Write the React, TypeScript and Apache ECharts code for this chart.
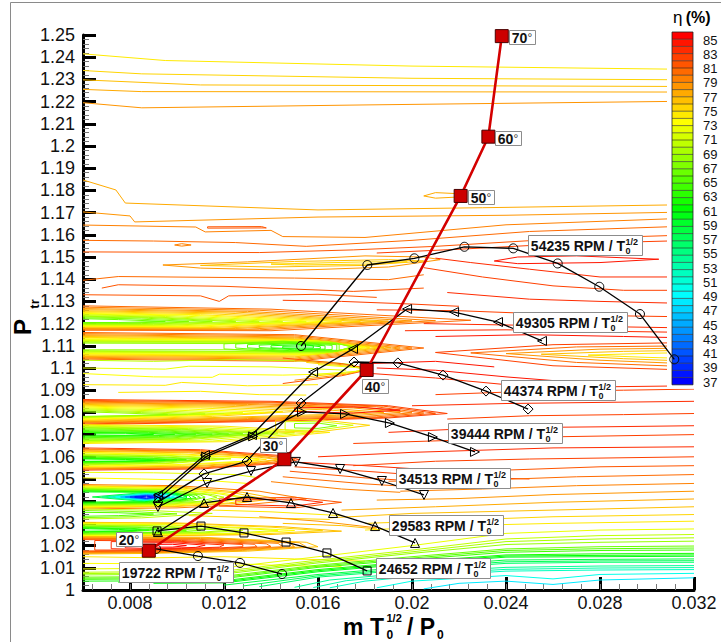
import React, { useEffect, useRef } from "react";
import * as echarts from "echarts";

const FONT = '"Liberation Sans", Arial, Helvetica, sans-serif';

// ---------- axes ----------
const xMajorTicks = [0.008, 0.012, 0.016, 0.02, 0.024, 0.028, 0.032];
const xMajorLabels = ["0.008", "0.012", "0.016", "0.02", "0.024", "0.028", "0.032"];

// ---------- colour legend levels (eta %) ----------
const etaLevels = [37, 38, 39, 40, 41, 42, 43, 44, 45, 46, 47, 48, 49, 50, 51, 52, 53, 54, 55, 56, 57, 58, 59, 60, 61,
  62, 63, 64, 65, 66, 67, 68, 69, 70, 71, 72, 73, 74, 75, 76, 77, 78, 79, 80, 81, 82, 83, 84, 85];
const etaTickLabels = ["85", "83", "81", "79", "77", "75", "73", "71", "69", "67", "65", "63", "61", "59", "57", "55", "53", "51", "49", "47", "45", "43", "41", "39", "37"];

// ---------- speed lines ----------
const speedNames = ["54235", "49305", "44374", "39444", "34513", "29583", "24652", "19722"];
const s54235 = [[0.01528, 1.1099], [0.0181, 1.1464], [0.0201, 1.1494], [0.02223, 1.1546], [0.02431, 1.1539], [0.0262, 1.1471], [0.02797, 1.1366], [0.0297, 1.1243], [0.03116, 1.1039]];
const s49305 = [[0.00919, 1.0428], [0.01119, 1.0608], [0.01319, 1.0698], [0.01579, 1.0982], [0.01749, 1.1086], [0.01979, 1.1266], [0.02179, 1.1252], [0.02366, 1.1207], [0.02553, 1.1122]];
const s44374 = [[0.00919, 1.0396], [0.01115, 1.0523], [0.01298, 1.0581], [0.01528, 1.0842], [0.01753, 1.1027], [0.0194, 1.1023], [0.02132, 1.0968], [0.02315, 1.0896], [0.02494, 1.0815]];
const s39444 = [[0.00925, 1.0415], [0.01124, 1.0601], [0.01324, 1.0692], [0.01532, 1.0802], [0.01715, 1.0793], [0.01906, 1.0752], [0.02089, 1.0689], [0.02268, 1.0622]];
const s34513 = [[0.00919, 1.0374], [0.01128, 1.0482], [0.01315, 1.0536], [0.01506, 1.0577], [0.01694, 1.0545], [0.01872, 1.0491], [0.02051, 1.0428]];
const s29583 = [[0.00919, 1.0261], [0.01115, 1.0392], [0.01298, 1.0419], [0.01485, 1.0392], [0.01664, 1.0347], [0.01843, 1.0288], [0.02013, 1.0212]];
const s24652 = [[0.00915, 1.0266], [0.01102, 1.0288], [0.01285, 1.0257], [0.01464, 1.0216], [0.01638, 1.0167], [0.01809, 1.0086]];
const s19722 = [[0.00911, 1.0185], [0.01089, 1.0153], [0.01268, 1.0122], [0.01447, 1.0072]];
const speedData = [s54235, s49305, s44374, s39444, s34513, s29583, s24652, s19722];

// ---------- inlet-angle line ----------
const angleLabels = ["20", "30", "40", "50", "60", "70"];
const angleData = [[0.0088, 1.0177], [0.01457, 1.0589], [0.01807, 1.0991], [0.02207, 1.1775], [0.02325, 1.2042], [0.02382, 1.2495]];

// ---------- efficiency contour lines: [level, points] ----------
type C = [number, number[][]];
const contourTop: C[] = [
  [74, [[0.006, 1.2415], [0.0095, 1.2385], [0.02, 1.236], [0.032, 1.2345]]],
  [75, [[0.006, 1.234], [0.0085, 1.2325], [0.02, 1.2305], [0.032, 1.2298]]],
  [76, [[0.006, 1.2298], [0.011, 1.2275], [0.032, 1.2268]]],
  [77, [[0.006, 1.2255], [0.0085, 1.2245], [0.032, 1.2243]]],
  [78, [[0.006, 1.2195], [0.0085, 1.2172], [0.018, 1.2185], [0.032, 1.2202]]],
  [77, [[0.0205, 1.1775], [0.021, 1.179], [0.022, 1.1785], [0.0223, 1.1772], [0.021, 1.1765], [0.0205, 1.1775]]],
];
const contourUpper: C[] = [
  [77, [[0.006, 1.1847], [0.0074, 1.1802], [0.0078, 1.1743], [0.016, 1.1712], [0.023, 1.1722], [0.032, 1.1736]]],
  [78, [[0.006, 1.1703], [0.008, 1.1685], [0.0082, 1.1658], [0.016, 1.168], [0.024, 1.1688], [0.032, 1.1703]]],
  [79, [[0.006, 1.1644], [0.0108, 1.1635], [0.0112, 1.1613], [0.014, 1.162], [0.0145, 1.1592], [0.018, 1.1588], [0.024, 1.1645], [0.032, 1.1676]]],
  [81, [[0.0113, 1.1636], [0.0136, 1.1637], [0.0138, 1.1631], [0.0113, 1.163], [0.0113, 1.1636]]],
  [80, [[0.006, 1.1575], [0.009, 1.1572], [0.0125, 1.1565], [0.0155, 1.1548], [0.02, 1.1575], [0.025, 1.1615], [0.032, 1.164]]],
  [81, [[0.006, 1.1523], [0.0135, 1.152], [0.0175, 1.1532], [0.021, 1.1548], [0.026, 1.158], [0.032, 1.16]]],
  [82, [[0.0185, 1.1518], [0.022, 1.1535], [0.0265, 1.156], [0.032, 1.1575]]],
  [79, [[0.0099, 1.1554], [0.0102, 1.156], [0.0106, 1.1554], [0.0102, 1.1549], [0.0099, 1.1554]]],
  [78, [[0.0094, 1.1464], [0.013, 1.1478], [0.018, 1.1505], [0.0205, 1.15], [0.0212, 1.1488], [0.019, 1.1455], [0.015, 1.144], [0.011, 1.145], [0.0094, 1.1464]]],
  [76, [[0.011, 1.1462], [0.015, 1.148], [0.019, 1.1488], [0.0205, 1.1482], [0.018, 1.1462], [0.014, 1.1455], [0.011, 1.1462]]],
  [75, [[0.014, 1.1468], [0.018, 1.1478], [0.0198, 1.1478], [0.018, 1.1468], [0.015, 1.1464], [0.014, 1.1468]]],
  [84, [[0.0245, 1.15], [0.027, 1.1505], [0.0305, 1.149], [0.028, 1.1475], [0.0245, 1.147], [0.0235, 1.1482], [0.0245, 1.15]]],
  [83, [[0.021, 1.1495], [0.0225, 1.1475], [0.025, 1.1445], [0.028, 1.141], [0.032, 1.141]]],
  [82, [[0.0205, 1.1452], [0.023, 1.141], [0.026, 1.137], [0.029, 1.135], [0.032, 1.135]]],
  [83, [[0.0215, 1.134], [0.025, 1.131], [0.028, 1.13], [0.032, 1.129]]],
  [82, [[0.0185, 1.1262], [0.022, 1.1258], [0.027, 1.1238], [0.032, 1.123]]],
  [83, [[0.0205, 1.12], [0.025, 1.1192], [0.032, 1.118]]],
  [84, [[0.021, 1.1142], [0.025, 1.115], [0.029, 1.1142], [0.032, 1.1135]]],
  [83, [[0.0197, 1.1168], [0.024, 1.1172], [0.032, 1.116]]],
  [80, [[0.006, 1.1395], [0.0075, 1.1412], [0.015, 1.1405], [0.019, 1.1398], [0.0205, 1.142]]],
  [81, [[0.0068, 1.136], [0.0075, 1.1375], [0.012, 1.1368], [0.0175, 1.1345], [0.0205, 1.136]]],
  [81, [[0.006, 1.133], [0.011, 1.1325], [0.0118, 1.13], [0.0122, 1.1325], [0.016, 1.1332], [0.0185, 1.1318]]],
  [82, [[0.0145, 1.1305], [0.017, 1.13], [0.02, 1.1288], [0.022, 1.1278]]],
];
const contourBand112: C[] = [
  [80, [[0.006, 1.128], [0.014, 1.1265], [0.0225, 1.1215], [0.014, 1.1168], [0.006, 1.117]]],
  [79, [[0.006, 1.1274], [0.0135, 1.126], [0.021, 1.1213], [0.0135, 1.1172], [0.006, 1.1174]]],
  [78, [[0.006, 1.1268], [0.013, 1.1255], [0.02, 1.1212], [0.013, 1.1175], [0.006, 1.1178]]],
  [77, [[0.006, 1.1263], [0.0125, 1.1252], [0.019, 1.1211], [0.0125, 1.1178], [0.006, 1.1181]]],
  [76, [[0.006, 1.1258], [0.012, 1.1248], [0.0185, 1.121], [0.012, 1.118], [0.006, 1.1184]]],
  [75, [[0.006, 1.1254], [0.0115, 1.1244], [0.0178, 1.121], [0.0115, 1.1183], [0.006, 1.1186]]],
  [74, [[0.006, 1.125], [0.011, 1.124], [0.017, 1.121], [0.011, 1.1185], [0.006, 1.1188]]],
  [73, [[0.006, 1.1246], [0.0105, 1.1238], [0.0162, 1.1209], [0.0105, 1.1188], [0.006, 1.119]]],
  [72, [[0.006, 1.1243], [0.01, 1.1235], [0.0155, 1.1208], [0.01, 1.119], [0.006, 1.1192]]],
  [71, [[0.006, 1.124], [0.0095, 1.1232], [0.0145, 1.1208], [0.0095, 1.1193], [0.006, 1.1194]]],
  [70, [[0.006, 1.1236], [0.009, 1.123], [0.0135, 1.1208], [0.009, 1.1195], [0.006, 1.1196]]],
  [69, [[0.006, 1.1233], [0.0088, 1.1228], [0.0125, 1.1209], [0.0088, 1.1198], [0.006, 1.1198]]],
  [68, [[0.006, 1.123], [0.0085, 1.1225], [0.0115, 1.121], [0.0085, 1.12], [0.006, 1.12]]],
  [67, [[0.006, 1.1226], [0.008, 1.1222], [0.0105, 1.121], [0.008, 1.1203], [0.006, 1.1203]]],
  [66, [[0.006, 1.1222], [0.0075, 1.1218], [0.0095, 1.121], [0.0075, 1.1205], [0.006, 1.1205]]],
];
const contourBand111: C[] = [
  [80, [[0.006, 1.116], [0.015, 1.115], [0.0205, 1.109], [0.015, 1.103], [0.006, 1.104]]],
  [79, [[0.006, 1.1155], [0.015, 1.1145], [0.02, 1.109], [0.015, 1.1035], [0.006, 1.1044]]],
  [78, [[0.006, 1.115], [0.015, 1.114], [0.0195, 1.109], [0.015, 1.104], [0.006, 1.1048]]],
  [77, [[0.006, 1.1146], [0.015, 1.1136], [0.0191, 1.1091], [0.015, 1.1045], [0.006, 1.1052]]],
  [76, [[0.006, 1.1142], [0.015, 1.1132], [0.0188, 1.1092], [0.015, 1.105], [0.006, 1.1055]]],
  [75, [[0.006, 1.1138], [0.0152, 1.1128], [0.0185, 1.1092], [0.0152, 1.1054], [0.006, 1.1058]]],
  [74, [[0.006, 1.1135], [0.0155, 1.1125], [0.0182, 1.1093], [0.0155, 1.1058], [0.006, 1.1062]]],
  [73, [[0.006, 1.1131], [0.0157, 1.1123], [0.018, 1.1094], [0.0157, 1.1061], [0.006, 1.1065]]],
  [72, [[0.006, 1.1128], [0.016, 1.1122], [0.0178, 1.1095], [0.016, 1.1064], [0.006, 1.1068]]],
  [71, [[0.006, 1.1124], [0.0162, 1.112], [0.0177, 1.1095], [0.0162, 1.1067], [0.006, 1.1071]]],
  [70, [[0.006, 1.112], [0.0165, 1.1118], [0.0176, 1.1095], [0.0165, 1.107], [0.006, 1.1075]]],
  [69, [[0.006, 1.1116], [0.0166, 1.1115], [0.0175, 1.1095], [0.0166, 1.1072], [0.006, 1.1078]]],
  [68, [[0.006, 1.1112], [0.012, 1.111], [0.0168, 1.1112], [0.0174, 1.1095], [0.0168, 1.1074], [0.012, 1.1082], [0.006, 1.1082]]],
  [67, [[0.012, 1.1109], [0.0145, 1.1121], [0.0169, 1.1108], [0.0169, 1.1078], [0.0145, 1.1072], [0.012, 1.1086], [0.012, 1.1109]]],
  [66, [[0.0125, 1.1108], [0.0145, 1.1118], [0.0168, 1.1105], [0.0168, 1.108], [0.0145, 1.1075], [0.0125, 1.109], [0.0125, 1.1108]]],
  [65, [[0.013, 1.1105], [0.0148, 1.1114], [0.0166, 1.1102], [0.0166, 1.1083], [0.0148, 1.1078], [0.013, 1.1091], [0.013, 1.1105]]],
  [64, [[0.0135, 1.1103], [0.015, 1.111], [0.0163, 1.11], [0.0163, 1.1085], [0.015, 1.1082], [0.0135, 1.1092], [0.0135, 1.1103]]],
  [63, [[0.014, 1.11], [0.0153, 1.1106], [0.0161, 1.1096], [0.0161, 1.1087], [0.0153, 1.1085], [0.014, 1.1091], [0.014, 1.11]]],
  [62, [[0.0145, 1.1098], [0.0158, 1.11], [0.0158, 1.109], [0.0145, 1.109], [0.0145, 1.1098]]],
];
const contourMid: C[] = [
  [70, [[0.006, 1.1035], [0.009, 1.103], [0.0125, 1.1038], [0.016, 1.103], [0.0175, 1.1015]]],
  [72, [[0.006, 1.1], [0.0095, 1.0995], [0.0105, 1.1008], [0.014, 1.1005], [0.0172, 1.099]]],
  [73, [[0.006, 1.0975], [0.009, 1.096], [0.0115, 1.0958], [0.0118, 1.0972], [0.0145, 1.0968], [0.0172, 1.0975]]],
  [74, [[0.006, 1.0925], [0.0095, 1.0922], [0.0102, 1.0935], [0.013, 1.092], [0.016, 1.0925]]],
  [74, [[0.0075, 1.089], [0.011, 1.0895], [0.0135, 1.088], [0.0155, 1.0878]]],
  [81, [[0.0145, 1.1045], [0.017, 1.102], [0.0183, 1.0995], [0.017, 1.0965], [0.0145, 1.093]]],
  [78, [[0.015, 1.1035], [0.0172, 1.1013], [0.0182, 1.0995], [0.0172, 1.0972], [0.015, 1.0945]]],
  [75, [[0.0155, 1.1025], [0.0174, 1.1007], [0.0181, 1.0995], [0.0174, 1.098], [0.0155, 1.096]]],
  [72, [[0.016, 1.1015], [0.0176, 1.1002], [0.018, 1.0995], [0.0176, 1.0985], [0.016, 1.0972]]],
  [82, [[0.032, 1.1115], [0.026, 1.1105], [0.021, 1.107], [0.026, 1.101], [0.032, 1.099]]],
  [80, [[0.032, 1.11], [0.027, 1.1095], [0.0225, 1.1068], [0.027, 1.1025], [0.032, 1.1005]]],
  [78, [[0.032, 1.109], [0.028, 1.1085], [0.024, 1.1065], [0.028, 1.1035], [0.032, 1.1018]]],
  [76, [[0.032, 1.108], [0.029, 1.1075], [0.0255, 1.1062], [0.029, 1.1042], [0.032, 1.103]]],
  [74, [[0.032, 1.107], [0.03, 1.1066], [0.0275, 1.1058], [0.03, 1.1048], [0.032, 1.1042]]],
  [84, [[0.0185, 1.1], [0.021, 1.099], [0.024, 1.096], [0.027, 1.0935]]],
  [83, [[0.0183, 1.0975], [0.021, 1.0955], [0.024, 1.0925], [0.028, 1.0915], [0.032, 1.092]]],
  [84, [[0.0182, 1.102], [0.021, 1.103], [0.0235, 1.1005]]],
  [82, [[0.021, 1.088], [0.025, 1.0895], [0.029, 1.09], [0.032, 1.0905]]],
  [83, [[0.02, 1.083], [0.024, 1.084], [0.028, 1.0845], [0.032, 1.085]]],
  [82, [[0.0215, 1.077], [0.025, 1.0785], [0.029, 1.079], [0.032, 1.0795]]],
  [83, [[0.019, 1.071], [0.023, 1.073], [0.028, 1.0735], [0.032, 1.074]]],
  [82, [[0.0175, 1.066], [0.022, 1.0675], [0.026, 1.069], [0.032, 1.07]]],
  [83, [[0.0152, 1.0575], [0.018, 1.056], [0.021, 1.054], [0.024, 1.0525]]],
  [82, [[0.015, 1.0555], [0.018, 1.0535], [0.021, 1.0512], [0.025, 1.05]]],
  [81, [[0.0148, 1.0535], [0.018, 1.0505], [0.021, 1.0485]]],
  [80, [[0.0145, 1.051], [0.018, 1.0478], [0.0205, 1.0462]]],
  [79, [[0.014, 1.0488], [0.017, 1.0455], [0.0195, 1.044]]],
];
const contourBand108: C[] = [
  [82, [[0.006, 1.0858], [0.014, 1.085], [0.019, 1.083], [0.0215, 1.0795], [0.019, 1.0775], [0.014, 1.076], [0.006, 1.0745]]],
  [81, [[0.006, 1.0854], [0.014, 1.0846], [0.0188, 1.0828], [0.021, 1.0796], [0.0188, 1.0777], [0.014, 1.0763], [0.006, 1.0748]]],
  [80, [[0.006, 1.085], [0.014, 1.0843], [0.0185, 1.0825], [0.0205, 1.0797], [0.0185, 1.078], [0.014, 1.0766], [0.006, 1.0752]]],
  [79, [[0.006, 1.0846], [0.0135, 1.0839], [0.018, 1.0822], [0.02, 1.0798], [0.018, 1.0782], [0.0135, 1.0769], [0.006, 1.0755]]],
  [78, [[0.006, 1.0843], [0.013, 1.0836], [0.0175, 1.082], [0.0195, 1.08], [0.0175, 1.0785], [0.013, 1.0772], [0.006, 1.0758]]],
  [77, [[0.006, 1.084], [0.0125, 1.0832], [0.0168, 1.0816], [0.0188, 1.08], [0.0168, 1.0787], [0.0125, 1.0775], [0.006, 1.076]]],
  [76, [[0.006, 1.0836], [0.012, 1.0828], [0.0162, 1.0812], [0.018, 1.08], [0.0162, 1.079], [0.012, 1.0778], [0.006, 1.0763]]],
  [75, [[0.006, 1.0832], [0.0115, 1.0824], [0.0155, 1.0807], [0.0115, 1.0782], [0.006, 1.0765]]],
  [74, [[0.006, 1.0828], [0.011, 1.082], [0.0145, 1.0803], [0.011, 1.0785], [0.006, 1.0768]]],
  [73, [[0.006, 1.0824], [0.0105, 1.0815], [0.0137, 1.08], [0.0105, 1.0786], [0.006, 1.077]]],
  [72, [[0.006, 1.082], [0.01, 1.081], [0.0128, 1.0798], [0.01, 1.0788], [0.006, 1.0773]]],
  [71, [[0.006, 1.0816], [0.0095, 1.0806], [0.012, 1.0795], [0.0095, 1.0787], [0.006, 1.0776]]],
  [70, [[0.006, 1.0812], [0.009, 1.0802], [0.0112, 1.0793], [0.009, 1.0786], [0.006, 1.0778]]],
  [69, [[0.006, 1.0808], [0.0085, 1.0799], [0.0104, 1.0791], [0.0085, 1.0786], [0.006, 1.078]]],
  [68, [[0.006, 1.0803], [0.008, 1.0796], [0.0096, 1.079], [0.008, 1.0786], [0.006, 1.0782]]],
  [84, [[0.015, 1.082], [0.0175, 1.0825], [0.0195, 1.081], [0.0175, 1.0797], [0.015, 1.0805], [0.015, 1.082]]],
];
const contourBand107: C[] = [
  [74, [[0.006, 1.0745], [0.012, 1.0738], [0.0165, 1.071], [0.012, 1.0668], [0.006, 1.066]]],
  [72, [[0.006, 1.0742], [0.0115, 1.0734], [0.0158, 1.0709], [0.0115, 1.0671], [0.006, 1.0664]]],
  [71, [[0.006, 1.0738], [0.011, 1.073], [0.015, 1.0708], [0.011, 1.0675], [0.006, 1.0668]]],
  [70, [[0.006, 1.0735], [0.0105, 1.0727], [0.0143, 1.0707], [0.0105, 1.0678], [0.006, 1.0671]]],
  [69, [[0.006, 1.0732], [0.0102, 1.0724], [0.0139, 1.0706], [0.0102, 1.068], [0.006, 1.0673]]],
  [68, [[0.006, 1.073], [0.01, 1.0722], [0.0135, 1.0705], [0.01, 1.0682], [0.006, 1.0675]]],
  [67, [[0.006, 1.0726], [0.0097, 1.0719], [0.0128, 1.0704], [0.0097, 1.0685], [0.006, 1.0679]]],
  [66, [[0.006, 1.0722], [0.0095, 1.0716], [0.0122, 1.0703], [0.0095, 1.0688], [0.006, 1.0683]]],
  [65, [[0.006, 1.0718], [0.0092, 1.0713], [0.0115, 1.0702], [0.0092, 1.0691], [0.006, 1.0686]]],
  [64, [[0.006, 1.0714], [0.0088, 1.071], [0.0108, 1.0702], [0.0088, 1.0694], [0.006, 1.069]]],
  [63, [[0.006, 1.071], [0.0083, 1.0708], [0.0099, 1.0701], [0.0083, 1.0695], [0.006, 1.0694]]],
  [62, [[0.0065, 1.0706], [0.0078, 1.0706], [0.009, 1.0701], [0.0078, 1.0697], [0.0065, 1.0698], [0.0065, 1.0706]]],
  [75, [[0.0142, 1.0765], [0.016, 1.0768], [0.0182, 1.0742], [0.016, 1.0712], [0.0142, 1.0712], [0.0142, 1.0765]]],
  [71, [[0.0146, 1.0758], [0.016, 1.076], [0.0175, 1.0742], [0.016, 1.072], [0.0146, 1.072], [0.0146, 1.0758]]],
  [67, [[0.015, 1.075], [0.016, 1.0752], [0.0168, 1.074], [0.016, 1.0728], [0.015, 1.073], [0.015, 1.075]]],
];
const contourBand106: C[] = [
  [82, [[0.006, 1.064], [0.011, 1.0632], [0.0145, 1.0605], [0.0152, 1.0588], [0.0145, 1.0572], [0.011, 1.0545], [0.006, 1.054]]],
  [80, [[0.006, 1.0635], [0.011, 1.0628], [0.0142, 1.0603], [0.015, 1.0588], [0.0142, 1.0573], [0.011, 1.0549], [0.006, 1.0544]]],
  [79, [[0.006, 1.0632], [0.011, 1.0625], [0.014, 1.0602], [0.0148, 1.0588], [0.014, 1.0575], [0.011, 1.0552], [0.006, 1.0546]]],
  [77, [[0.006, 1.0628], [0.0107, 1.0621], [0.0137, 1.06], [0.0145, 1.0588], [0.0137, 1.0577], [0.0107, 1.0555], [0.006, 1.0549]]],
  [76, [[0.006, 1.0625], [0.0105, 1.0618], [0.0135, 1.0598], [0.0143, 1.0588], [0.0135, 1.0578], [0.0105, 1.0558], [0.006, 1.0552]]],
  [74, [[0.006, 1.062], [0.0102, 1.0613], [0.013, 1.0596], [0.0138, 1.0588], [0.013, 1.0579], [0.0102, 1.0562], [0.006, 1.0556]]],
  [73, [[0.006, 1.0618], [0.01, 1.061], [0.0128, 1.0595], [0.0135, 1.0588], [0.0128, 1.058], [0.01, 1.0565], [0.006, 1.0558]]],
  [71, [[0.006, 1.0613], [0.0097, 1.0606], [0.0123, 1.0591], [0.0097, 1.057], [0.006, 1.0562]]],
  [70, [[0.006, 1.061], [0.0095, 1.0604], [0.012, 1.059], [0.0095, 1.0572], [0.006, 1.0564]]],
  [68, [[0.006, 1.0606], [0.0092, 1.06], [0.0114, 1.0589], [0.0092, 1.0575], [0.006, 1.0568]]],
  [67, [[0.006, 1.0603], [0.009, 1.0598], [0.011, 1.0588], [0.009, 1.0577], [0.006, 1.057]]],
  [65, [[0.006, 1.0599], [0.0087, 1.0594], [0.0104, 1.0587], [0.0087, 1.0579], [0.006, 1.0574]]],
  [64, [[0.006, 1.0596], [0.0085, 1.0592], [0.01, 1.0586], [0.0085, 1.058], [0.006, 1.0576]]],
  [63, [[0.006, 1.0593], [0.0082, 1.059], [0.0095, 1.0585], [0.0082, 1.058], [0.006, 1.0578]]],
  [62, [[0.006, 1.059], [0.0078, 1.0588], [0.009, 1.0584], [0.0078, 1.0581], [0.006, 1.058]]],
];
const contourBand104: C[] = [
  [72, [[0.006, 1.053], [0.009, 1.0528], [0.0125, 1.052], [0.0135, 1.0505]]],
  [73, [[0.006, 1.0505], [0.0085, 1.05], [0.0115, 1.0492], [0.013, 1.048]]],
  [79, [[0.006, 1.0475], [0.01, 1.047], [0.0135, 1.0445], [0.0155, 1.041], [0.013, 1.0385], [0.01, 1.037], [0.006, 1.0365]]],
  [76, [[0.006, 1.047], [0.01, 1.0465], [0.0128, 1.044], [0.0142, 1.0412], [0.0125, 1.039], [0.01, 1.0376], [0.006, 1.037]]],
  [75, [[0.006, 1.0468], [0.0099, 1.0462], [0.0124, 1.0438], [0.0136, 1.0413], [0.0122, 1.0392], [0.0099, 1.0379], [0.006, 1.0372]]],
  [73, [[0.006, 1.0465], [0.0098, 1.0458], [0.012, 1.0435], [0.013, 1.0415], [0.0118, 1.0395], [0.0098, 1.0382], [0.006, 1.0375]]],
  [72, [[0.006, 1.0463], [0.0097, 1.0456], [0.0118, 1.0433], [0.0127, 1.0416], [0.0116, 1.0396], [0.0097, 1.0384], [0.006, 1.0377]]],
  [70, [[0.006, 1.046], [0.0095, 1.0452], [0.0115, 1.043], [0.012, 1.0418], [0.0112, 1.0398], [0.0095, 1.0386], [0.006, 1.038]]],
  [69, [[0.006, 1.0458], [0.0094, 1.045], [0.0113, 1.0429], [0.0117, 1.0418], [0.011, 1.04], [0.0093, 1.0388], [0.006, 1.0382]]],
  [67, [[0.006, 1.0454], [0.0092, 1.0447], [0.011, 1.0428], [0.0112, 1.0418], [0.0106, 1.0402], [0.009, 1.039], [0.006, 1.0385]]],
  [66, [[0.006, 1.0452], [0.0091, 1.0445], [0.0108, 1.0427], [0.011, 1.0417], [0.0104, 1.0403], [0.0089, 1.0392], [0.006, 1.0387]]],
  [64, [[0.006, 1.0448], [0.009, 1.0443], [0.0106, 1.0426], [0.0108, 1.0416], [0.0102, 1.0404], [0.0088, 1.0394], [0.006, 1.039]]],
  [63, [[0.006, 1.0446], [0.0089, 1.0442], [0.0105, 1.0425], [0.0106, 1.0414], [0.0101, 1.0405], [0.0087, 1.0396], [0.006, 1.0392]]],
  [61, [[0.006, 1.0442], [0.0088, 1.044], [0.0104, 1.0424], [0.0104, 1.0412], [0.0086, 1.0398], [0.006, 1.0396]]],
  [58, [[0.0064, 1.0419], [0.0085, 1.0438], [0.01, 1.0435], [0.0104, 1.0419], [0.0085, 1.04], [0.0064, 1.0419]]],
  [55, [[0.0068, 1.0419], [0.0086, 1.0436], [0.0098, 1.0433], [0.0102, 1.0419], [0.0086, 1.0402], [0.0068, 1.0419]]],
  [52, [[0.0071, 1.0419], [0.0086, 1.0434], [0.0097, 1.0431], [0.0101, 1.0419], [0.0086, 1.0404], [0.0071, 1.0419]]],
  [49, [[0.0074, 1.0419], [0.0087, 1.0432], [0.0095, 1.0429], [0.0099, 1.0419], [0.0087, 1.0406], [0.0074, 1.0419]]],
  [46, [[0.0076, 1.0419], [0.0087, 1.043], [0.0093, 1.0427], [0.0097, 1.0419], [0.0087, 1.0408], [0.0076, 1.0419]]],
  [43, [[0.0078, 1.0419], [0.0087, 1.0427], [0.0092, 1.0425], [0.0095, 1.0419], [0.0087, 1.041], [0.0078, 1.0419]]],
  [40, [[0.008, 1.0419], [0.0087, 1.0425], [0.009, 1.0423], [0.0093, 1.0419], [0.0087, 1.0412], [0.008, 1.0419]]],
  [38, [[0.0082, 1.0419], [0.0087, 1.0422], [0.0091, 1.0419], [0.0087, 1.0415], [0.0082, 1.0419]]],
  [81, [[0.0118, 1.041], [0.015, 1.0418], [0.017, 1.0395], [0.015, 1.037], [0.0118, 1.0378], [0.0118, 1.041]]],
  [83, [[0.0125, 1.0405], [0.015, 1.041], [0.0162, 1.0395], [0.015, 1.0378], [0.0125, 1.0385], [0.0125, 1.0405]]],
];
const contourBand103: C[] = [
  [70, [[0.006, 1.0365], [0.0085, 1.036], [0.0115, 1.0345], [0.0085, 1.0325], [0.006, 1.032]]],
  [67, [[0.006, 1.0358], [0.008, 1.0354], [0.01, 1.0343], [0.008, 1.033], [0.006, 1.0326]]],
  [65, [[0.006, 1.035], [0.0075, 1.0348], [0.009, 1.0342], [0.0075, 1.0335], [0.006, 1.0332]]],
  [74, [[0.0115, 1.036], [0.014, 1.0352], [0.017, 1.0335]]],
  [75, [[0.0105, 1.0335], [0.0135, 1.0325], [0.0165, 1.0318]]],
  [76, [[0.0145, 1.03], [0.017, 1.029], [0.0185, 1.0275]]],
  [78, [[0.0135, 1.033], [0.016, 1.031], [0.0185, 1.028]]],
];
const contourBand1027: C[] = [
  [76, [[0.006, 1.0305], [0.01, 1.0302], [0.0145, 1.0285], [0.017, 1.0265], [0.014, 1.025], [0.01, 1.0245], [0.006, 1.024]]],
  [75, [[0.006, 1.0303], [0.0098, 1.03], [0.014, 1.0283], [0.0162, 1.0267], [0.0135, 1.0252], [0.0098, 1.0247], [0.006, 1.0242]]],
  [73, [[0.006, 1.03], [0.0095, 1.0296], [0.013, 1.028], [0.015, 1.0268], [0.0128, 1.0255], [0.0095, 1.025], [0.006, 1.0245]]],
  [72, [[0.006, 1.0298], [0.0093, 1.0294], [0.0125, 1.0279], [0.0143, 1.0268], [0.0122, 1.0256], [0.0093, 1.0252], [0.006, 1.0247]]],
  [70, [[0.006, 1.0294], [0.009, 1.029], [0.0115, 1.0276], [0.0128, 1.0268], [0.0112, 1.0258], [0.009, 1.0254], [0.006, 1.025]]],
  [69, [[0.006, 1.0292], [0.0088, 1.0288], [0.011, 1.0275], [0.0122, 1.0268], [0.0107, 1.0259], [0.0088, 1.0255], [0.006, 1.0251]]],
  [67, [[0.006, 1.0288], [0.0085, 1.0284], [0.0102, 1.0273], [0.011, 1.0268], [0.01, 1.0261], [0.0085, 1.0258], [0.006, 1.0255]]],
  [66, [[0.006, 1.0286], [0.0083, 1.0282], [0.0098, 1.0272], [0.0104, 1.0267], [0.0096, 1.0262], [0.0083, 1.0259], [0.006, 1.0257]]],
  [64, [[0.006, 1.0282], [0.008, 1.0278], [0.0092, 1.0271], [0.008, 1.0263], [0.006, 1.026]]],
  [63, [[0.006, 1.0279], [0.0078, 1.0276], [0.0088, 1.027], [0.0078, 1.0265], [0.006, 1.0262]]],
  [62, [[0.006, 1.0276], [0.0075, 1.0273], [0.0083, 1.0269], [0.0075, 1.0266], [0.006, 1.0265]]],
];
const contourBand102: C[] = [
  [76, [[0.006, 1.024], [0.011, 1.0238], [0.0155, 1.0215], [0.016, 1.0195], [0.013, 1.0175], [0.009, 1.0165], [0.006, 1.0162]]],
  [77, [[0.006, 1.0238], [0.011, 1.0235], [0.0152, 1.0213], [0.0155, 1.0195], [0.0128, 1.0178], [0.009, 1.0168], [0.006, 1.0165]]],
  [78, [[0.006, 1.0235], [0.011, 1.0232], [0.0148, 1.0212], [0.015, 1.0195], [0.0125, 1.018], [0.009, 1.017], [0.006, 1.0168]]],
  [79, [[0.006, 1.0233], [0.0108, 1.0229], [0.0143, 1.021], [0.0145, 1.0195], [0.0122, 1.0182], [0.009, 1.0172], [0.006, 1.017]]],
  [80, [[0.006, 1.023], [0.0105, 1.0226], [0.0138, 1.0208], [0.014, 1.0196], [0.012, 1.0184], [0.009, 1.0175], [0.006, 1.0173]]],
  [81, [[0.006, 1.0227], [0.0102, 1.0223], [0.0133, 1.0206], [0.0134, 1.0195], [0.0118, 1.0186], [0.009, 1.0178], [0.006, 1.0176]]],
  [82, [[0.0065, 1.0223], [0.01, 1.022], [0.0128, 1.0205], [0.0128, 1.0195], [0.0115, 1.0188], [0.009, 1.018], [0.0065, 1.018], [0.0065, 1.0223]]],
  [83, [[0.0072, 1.0218], [0.0099, 1.0217], [0.012, 1.0203], [0.0118, 1.0193], [0.0102, 1.0187], [0.0085, 1.0183], [0.0072, 1.0186], [0.0072, 1.0218]]],
  [84, [[0.0078, 1.0212], [0.0098, 1.0213], [0.0112, 1.0202], [0.0108, 1.0192], [0.009, 1.0186], [0.0078, 1.019], [0.0078, 1.0212]]],
  [85, [[0.0085, 1.0205], [0.0098, 1.0206], [0.0104, 1.02], [0.0098, 1.0193], [0.0087, 1.0193], [0.0085, 1.0205]]],
];
const contourBottom: C[] = [
  [74, [[0.006, 1.015], [0.009, 1.0145], [0.012, 1.015], [0.015, 1.014], [0.018, 1.013]]],
  [73, [[0.006, 1.012], [0.0095, 1.0118], [0.011, 1.0125], [0.014, 1.0112], [0.017, 1.0105]]],
  [72, [[0.006, 1.0095], [0.012, 1.01], [0.016, 1.015], [0.02, 1.02], [0.024, 1.0255], [0.028, 1.027], [0.032, 1.0275]]],
  [70, [[0.006, 1.008], [0.012, 1.0085], [0.016, 1.0135], [0.02, 1.018], [0.024, 1.023], [0.028, 1.0245], [0.032, 1.025]]],
  [69, [[0.006, 1.0074], [0.012, 1.0078], [0.016, 1.0128], [0.02, 1.0172], [0.024, 1.0218], [0.028, 1.023], [0.032, 1.0235]]],
  [68, [[0.006, 1.0068], [0.012, 1.0072], [0.016, 1.0122], [0.02, 1.0165], [0.024, 1.0205], [0.028, 1.0215], [0.032, 1.022]]],
  [66, [[0.006, 1.0058], [0.012, 1.0062], [0.016, 1.0112], [0.02, 1.015], [0.024, 1.0185], [0.028, 1.0195], [0.032, 1.0198]]],
  [65, [[0.006, 1.0053], [0.012, 1.0057], [0.016, 1.0107], [0.02, 1.0144], [0.024, 1.0178], [0.028, 1.0186], [0.032, 1.0189]]],
  [64, [[0.006, 1.0048], [0.012, 1.0052], [0.016, 1.0102], [0.02, 1.0138], [0.024, 1.017], [0.028, 1.0178], [0.032, 1.018]]],
  [62, [[0.006, 1.004], [0.012, 1.0042], [0.016, 1.0092], [0.02, 1.0128], [0.024, 1.0158], [0.028, 1.0163], [0.032, 1.0165]]],
  [61, [[0.0075, 1.0035], [0.012, 1.0037], [0.016, 1.0087], [0.02, 1.0123], [0.024, 1.0153], [0.028, 1.0156], [0.032, 1.0158]]],
  [60, [[0.009, 1.003], [0.012, 1.0032], [0.016, 1.0082], [0.02, 1.0118], [0.024, 1.0148], [0.028, 1.015], [0.032, 1.0152]]],
  [58, [[0.012, 1.0022], [0.016, 1.007], [0.02, 1.0105], [0.024, 1.0135], [0.028, 1.0138], [0.032, 1.014]]],
  [57, [[0.0128, 1.0018], [0.016, 1.0064], [0.02, 1.0098], [0.024, 1.0127], [0.028, 1.0131], [0.032, 1.0132]]],
  [56, [[0.0135, 1.0015], [0.016, 1.0058], [0.02, 1.0092], [0.024, 1.012], [0.028, 1.0125], [0.032, 1.0125]]],
  [54, [[0.015, 1.0012], [0.0165, 1.0045], [0.02, 1.0078], [0.024, 1.0102], [0.028, 1.0108], [0.032, 1.011]]],
  [53, [[0.0158, 1.0011], [0.0172, 1.0042], [0.02, 1.0069], [0.024, 1.0093], [0.028, 1.0099], [0.032, 1.0101]]],
  [52, [[0.0165, 1.001], [0.018, 1.004], [0.02, 1.006], [0.024, 1.0085], [0.028, 1.009], [0.032, 1.0092]]],
  [50, [[0.0185, 1.001], [0.02, 1.004], [0.024, 1.0065], [0.026, 1.005], [0.028, 1.007], [0.032, 1.0075]]],
  [48, [[0.0205, 1.0005], [0.022, 1.003], [0.024, 1.004], [0.026, 1.0025], [0.028, 1.0045], [0.032, 1.0055]]],
  [74, [[0.018, 1.027], [0.022, 1.029], [0.026, 1.03], [0.032, 1.031]]],
  [75, [[0.018, 1.03], [0.022, 1.0315], [0.026, 1.033], [0.032, 1.034]]],
  [76, [[0.0165, 1.0325], [0.02, 1.0345], [0.026, 1.036], [0.032, 1.0375]]],
  [77, [[0.017, 1.036], [0.021, 1.0375], [0.026, 1.0395], [0.032, 1.041]]],
  [78, [[0.0185, 1.0405], [0.022, 1.0412], [0.026, 1.043], [0.032, 1.0445]]],
  [79, [[0.0195, 1.0445], [0.023, 1.0455], [0.027, 1.047], [0.032, 1.048]]],
  [80, [[0.019, 1.049], [0.023, 1.0495], [0.027, 1.051], [0.032, 1.052]]],
  [81, [[0.0195, 1.053], [0.024, 1.054], [0.028, 1.0555], [0.032, 1.056]]],
  [82, [[0.0175, 1.056], [0.021, 1.058], [0.025, 1.059], [0.032, 1.06]]],
  [83, [[0.016, 1.06], [0.02, 1.062], [0.026, 1.064], [0.032, 1.0645]]],
];
const allContours: C[] = [
  ...contourTop, ...contourUpper, ...contourBand112, ...contourBand111, ...contourMid, ...contourBand108,
  ...contourBand107, ...contourBand106, ...contourBand104, ...contourBand103, ...contourBand1027, ...contourBand102, ...contourBottom,
];

// ---------- colour map ----------
const COLOR_STOPS: [number, number[]][] = [[37, [0, 0, 255]], [49, [0, 255, 255]], [61, [0, 255, 0]], [73, [255, 255, 0]], [85, [255, 0, 0]]];
function levelColor(v: number): string {
  const s = COLOR_STOPS;
  if (v <= s[0][0]) return `rgb(${s[0][1].join(",")})`;
  for (let i = 1; i < s.length; i++) {
    if (v <= s[i][0]) {
      const t = (v - s[i - 1][0]) / (s[i][0] - s[i - 1][0]);
      const a = s[i - 1][1];
      const b = s[i][1];
      return `rgb(${Math.round(a[0] + (b[0] - a[0]) * t)},${Math.round(a[1] + (b[1] - a[1]) * t)},${Math.round(a[2] + (b[2] - a[2]) * t)})`;
    }
  }
  return `rgb(${s[s.length - 1][1].join(",")})`;
}

// ---------- layout of annotations (pixels) ----------
const speedLabelBoxes = [[528, 235], [513, 312], [501, 380], [448, 423], [396, 468], [389, 515], [376, 558], [119, 562]];
const angleLabelOffsets = [[-33, -19], [-24, -21], [-5, 9], [7, -6], [7, -6], [7, -6]];
const speedSymbols: [string, number][] = [["circle", 0], ["triangle", 90], ["diamond", 0], ["triangle", -90], ["triangle", 180], ["triangle", 0], ["rect", 0], ["circle", 0]];

const BAR = { x: 672, y: 32, w: 21, h: 7.2 };

export default function App() {
  const ref = useRef<HTMLDivElement>(null);
  useEffect(() => {
    if (!ref.current) return;
    const chart = echarts.init(ref.current, undefined, { renderer: "svg" });

    const xMinor: number[] = [];
    for (let k = 0; k <= 31; k++) xMinor.push(Math.round((0.0064 + k * 0.0008) * 1e5) / 1e5);

    const contourSeries = allContours.map(([lv, pts]) => ({
      type: "line",
      data: pts,
      symbol: "none",
      silent: true,
      z: 2,
      lineStyle: { color: levelColor(lv), width: 1 },
    }));

    const speedSeries = speedData.map((d, i) => ({
      type: "line",
      name: speedNames[i],
      data: d,
      symbol: speedSymbols[i][0],
      symbolRotate: speedSymbols[i][1],
      symbolSize: speedSymbols[i][0] === "diamond" ? 10 : speedSymbols[i][0] === "rect" ? 8 : 9,
      showSymbol: true,
      silent: true,
      z: 10,
      itemStyle: { color: "rgba(255,255,255,0)", borderColor: "#000", borderWidth: 1 },
      lineStyle: { color: "#000", width: 1.3 },
    }));

    const angleSeries = {
      type: "line",
      data: angleData,
      symbol: "rect",
      symbolSize: 13,
      silent: true,
      z: 12,
      itemStyle: { color: "#cc0000", borderColor: "#4a0000", borderWidth: 1 },
      lineStyle: { color: "#d40000", width: 2.6 },
    };

    const dummyIndex = contourSeries.length + speedSeries.length + 1;

    chart.setOption({
      animation: false,
      backgroundColor: "#fff",
      textStyle: { fontFamily: FONT },
      grid: { left: 83, right: 27, top: 35, bottom: 52, outerBoundsMode: "none", containLabel: false },
      xAxis: [
        {
          type: "value",
          min: 0.006,
          max: 0.032,
          position: "bottom",
          axisLine: { show: true, onZero: false, lineStyle: { color: "#000", width: 3 } },
          axisTick: { show: true, inside: true, length: 13, customValues: xMajorTicks, lineStyle: { color: "#000", width: 3 } },
          axisLabel: {
            show: true,
            customValues: xMajorTicks,
            margin: 4,
            fontSize: 18,
            color: "#111",
            fontFamily: FONT,
            formatter: (v: number) => {
              const i = xMajorTicks.findIndex((t) => Math.abs(t - v) < 1e-9);
              return i >= 0 ? xMajorLabels[i] : "";
            },
          },
          splitLine: { show: false },
        },
        {
          type: "value",
          min: 0.006,
          max: 0.032,
          position: "bottom",
          axisLine: { show: false, onZero: false },
          axisTick: { show: true, inside: true, length: 6, customValues: xMinor, lineStyle: { color: "#777", width: 1 } },
          axisLabel: { show: false, customValues: xMinor },
          splitLine: { show: false },
        },
      ],
      yAxis: {
        type: "value",
        min: 1,
        max: 1.25,
        interval: 0.01,
        axisLine: { show: true, onZero: false, lineStyle: { color: "#000", width: 3 } },
        axisTick: { show: true, inside: true, length: 13, lineStyle: { color: "#000", width: 3 } },
        minorTick: { show: true, splitNumber: 5, length: 6, lineStyle: { color: "#777", width: 1 } },
        axisLabel: { fontSize: 18, color: "#111", margin: 8, fontFamily: FONT, formatter: (v: number) => String(+v.toFixed(2)) },
        splitLine: { show: false },
      },
      visualMap: {
        type: "piecewise",
        seriesIndex: dummyIndex,
        orient: "vertical",
        align: "left",
        left: BAR.x - 5,
        top: 0,
        padding: [BAR.y, 40, 4, 5],
        itemWidth: BAR.w,
        itemHeight: BAR.h,
        itemGap: 0,
        itemSymbol: "rect",
        showLabel: false,
        selectedMode: false,
        hoverLink: false,
        backgroundColor: "#fff",
        z: 4,
        pieces: etaLevels.map((l) => ({ value: l, color: levelColor(l) })),
      },
      series: [
        ...contourSeries,
        ...speedSeries,
        angleSeries,
        { type: "scatter", data: [], silent: true },
      ],
    });

    const toPx = (p: number[]) => chart.convertToPixel({ xAxisIndex: 0, yAxisIndex: 0 }, p) as number[];

    const g: any[] = [];
    g.push({ type: "rect", z: 100, silent: true, shape: { x: 10.5, y: 2.5, width: 720, height: 660 }, style: { fill: "none", stroke: "#8a8a8a", lineWidth: 1 } });

    // colour bar separators, frame and labels
    for (let i = 1; i < etaLevels.length; i++) {
      const y = BAR.y + i * BAR.h;
      g.push({ type: "line", z: 100, silent: true, shape: { x1: BAR.x, y1: y, x2: BAR.x + BAR.w, y2: y }, style: { stroke: "#222", lineWidth: 0.6 } });
    }
    g.push({ type: "rect", z: 100, silent: true, shape: { x: BAR.x, y: BAR.y, width: BAR.w, height: BAR.h * etaLevels.length }, style: { fill: "none", stroke: "#222", lineWidth: 0.8 } });
    etaTickLabels.forEach((t, i) => {
      g.push({ type: "text", z: 100, silent: true, x: 703, y: BAR.y + 8 + i * 14.25, style: { text: t, textAlign: "left", textVerticalAlign: "middle", fontSize: 13, fontFamily: FONT, fill: "#111" } });
    });
    g.push({
      type: "text", z: 100, silent: true, x: 673, y: 17,
      style: {
        text: "{a|η} {b|(%)}", textAlign: "left", textVerticalAlign: "middle",
        rich: { a: { fontSize: 17, fontFamily: FONT, fill: "#000", color: "#000" }, b: { fontSize: 16, fontWeight: "bold", fontFamily: FONT, fill: "#000", color: "#000" } },
      },
    });

    // speed-line labels
    speedNames.forEach((n, i) => {
      const [bx, by] = speedLabelBoxes[i];
      g.push({ type: "rect", z: 100, silent: true, shape: { x: bx + 0.5, y: by + 0.5, width: 114, height: 20 }, style: { fill: "#fff", stroke: "#8c8c8c", lineWidth: 1 } });
      g.push({ type: "text", z: 101, silent: true, x: bx + 97, y: by + 11, style: { text: `${n} RPM / T`, textAlign: "right", textVerticalAlign: "middle", fontSize: 14, fontWeight: "bold", fontFamily: FONT, fill: "#111" } });
      g.push({ type: "text", z: 101, silent: true, x: bx + 97.5, y: by + 6.5, style: { text: "1/2", textAlign: "left", textVerticalAlign: "middle", fontSize: 9, fontWeight: "bold", fontFamily: FONT, fill: "#111" } });
      g.push({ type: "text", z: 101, silent: true, x: bx + 97.5, y: by + 16, style: { text: "0", textAlign: "left", textVerticalAlign: "middle", fontSize: 9, fontWeight: "bold", fontFamily: FONT, fill: "#111" } });
    });

    // angle labels, anchored to the squares
    angleData.forEach((p, i) => {
      const [px, py] = toPx(p);
      const bx = Math.round(px + angleLabelOffsets[i][0]);
      const by = Math.round(py + angleLabelOffsets[i][1]);
      g.push({ type: "rect", z: 100, silent: true, shape: { x: bx + 0.5, y: by + 0.5, width: 26, height: 14 }, style: { fill: "#fff", stroke: "#8c8c8c", lineWidth: 1 } });
      g.push({
        type: "text", z: 101, silent: true, x: bx + 13, y: by + 7.5,
        style: {
          text: `{b|${angleLabels[i]}}{d|°}`, textAlign: "center", textVerticalAlign: "middle",
          rich: { b: { fontSize: 14, fontWeight: "bold", fontFamily: FONT, fill: "#111", color: "#111" }, d: { fontSize: 12, fontFamily: FONT, fill: "#333", color: "#333" } },
        },
      });
    });

    // axis titles
    g.push({ type: "text", z: 100, silent: true, x: 22, y: 327, rotation: Math.PI / 2, style: { text: "P", textAlign: "center", textVerticalAlign: "middle", fontSize: 24, fontWeight: "bold", fontFamily: FONT, fill: "#000" } });
    g.push({ type: "text", z: 100, silent: true, x: 34, y: 304, rotation: Math.PI / 2, style: { text: "tr", textAlign: "center", textVerticalAlign: "middle", fontSize: 13, fontWeight: "bold", fontFamily: FONT, fill: "#000" } });
    g.push({ type: "text", z: 100, silent: true, x: 384, y: 627, style: { text: "m T", textAlign: "right", textVerticalAlign: "middle", fontSize: 23, fontWeight: "bold", fontFamily: FONT, fill: "#000" } });
    g.push({ type: "text", z: 100, silent: true, x: 386.5, y: 617.5, style: { text: "1/2", textAlign: "left", textVerticalAlign: "middle", fontSize: 11, fontWeight: "bold", fontFamily: FONT, fill: "#000" } });
    g.push({ type: "text", z: 100, silent: true, x: 386.5, y: 635, style: { text: "0", textAlign: "left", textVerticalAlign: "middle", fontSize: 12, fontWeight: "bold", fontFamily: FONT, fill: "#000" } });
    g.push({ type: "text", z: 100, silent: true, x: 407, y: 627, style: { text: "/ P", textAlign: "left", textVerticalAlign: "middle", fontSize: 23, fontWeight: "bold", fontFamily: FONT, fill: "#000" } });
    g.push({ type: "text", z: 100, silent: true, x: 437, y: 635, style: { text: "0", textAlign: "left", textVerticalAlign: "middle", fontSize: 12, fontWeight: "bold", fontFamily: FONT, fill: "#000" } });

    chart.setOption({ graphic: { elements: g } });

    return () => chart.dispose();
  }, []);

  return <div ref={ref} style={{ position: "fixed", left: 0, top: 0, width: 721, height: 642, background: "#fff" }} />;
}
